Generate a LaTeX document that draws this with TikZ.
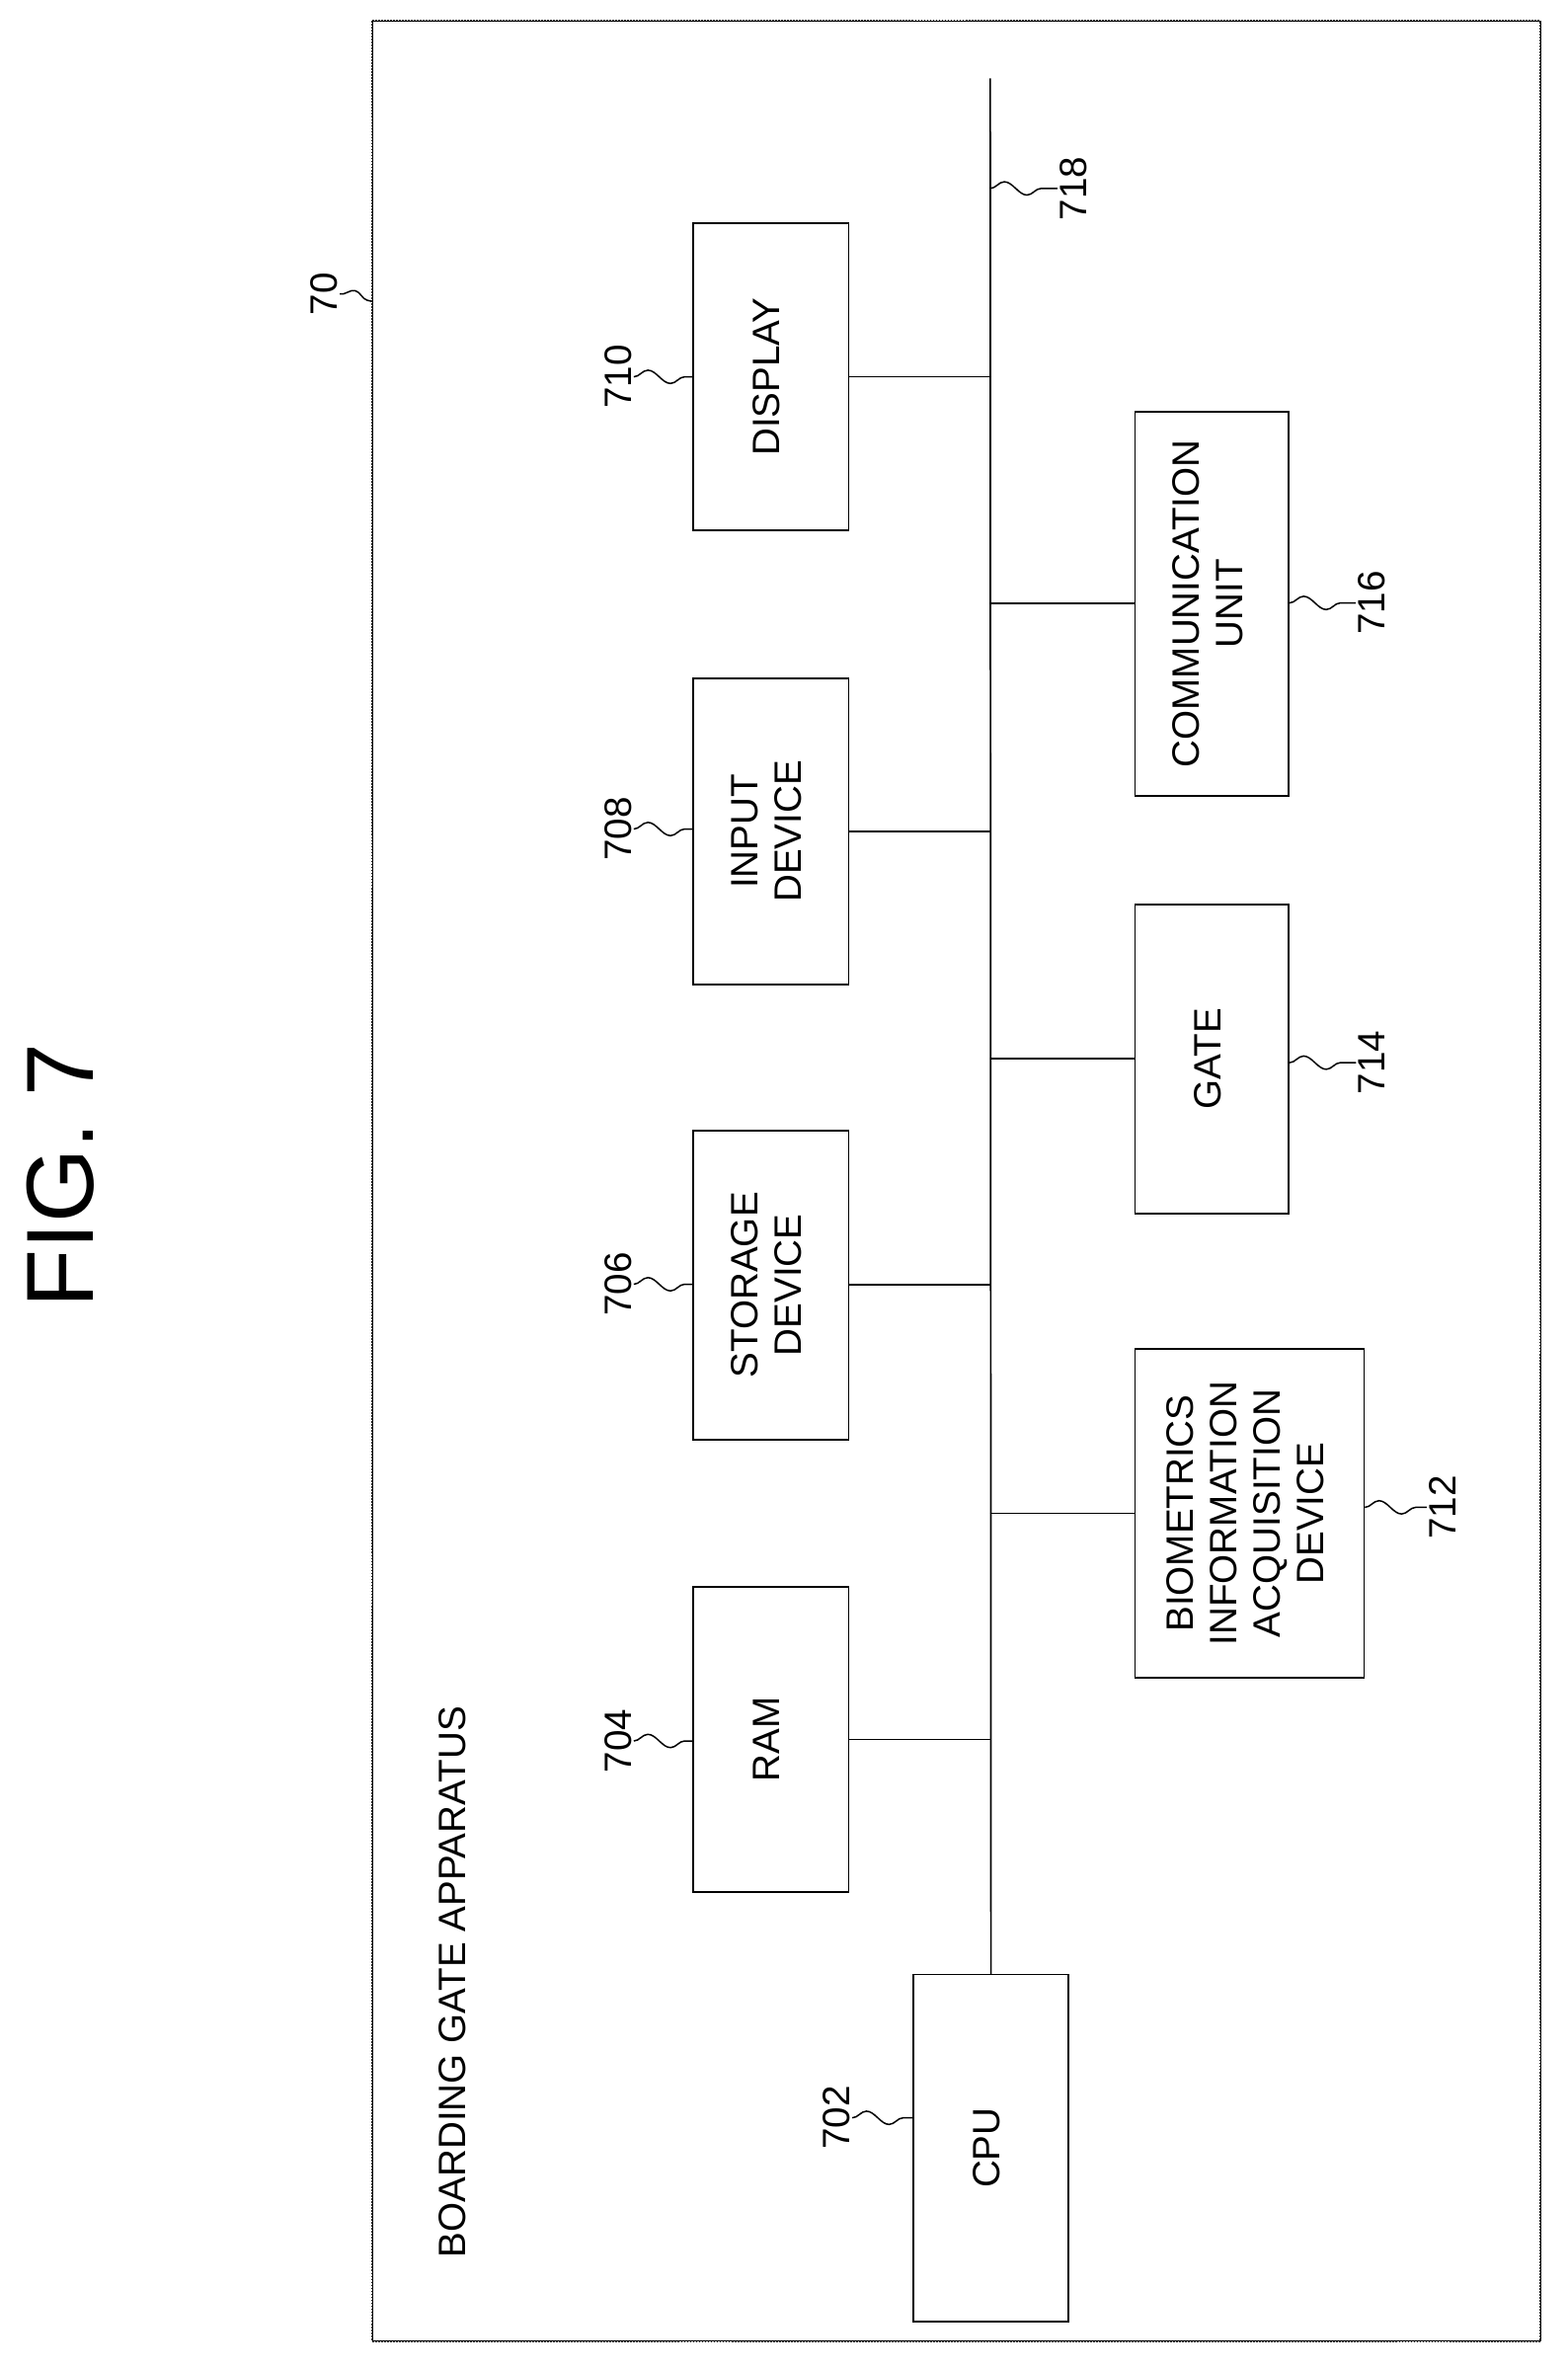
\documentclass[tikz,border=0pt]{standalone}
\usepackage{fontspec}
\setmainfont{Liberation Sans}
\usetikzlibrary{decorations.pathmorphing,positioning}
\tikzset{
  blk/.style={draw,line width=1.6pt,minimum width=5.15cm,align=center,inner sep=0pt},
  lbl/.style={rotate=90,font=\fontsize{36}{41}\selectfont,inner sep=2pt},
  lead/.style={line width=1.4pt,decorate,decoration={snake,amplitude=0.22cm,segment length=1.5cm}},
  wire/.style={line width=1.6pt}
}
\newcommand{\vtxt}[1]{\rotatebox{90}{\fontsize{36}{41}\selectfont\begin{tabular}{@{}c@{}}#1\end{tabular}}}
\begin{document}
\begin{tikzpicture}[x=0.05cm,y=-0.05cm]
    \useasboundingbox (0,0) rectangle (1040,1571);
    % frame and title
    \draw[line width=1.8pt,densely dotted] (247,14) rectangle (1022,1553);
    \draw[line width=0.8pt] (247,14) rectangle (1022,1553);
    \node[rotate=90,font=\fontsize{90}{90}\selectfont] (fig) at (40,780) {FIG. 7};
    \node[lbl] (title) at (300,1315) {BOARDING GATE APPARATUS};

    % blocks
    \node[blk,minimum height=11.5cm]  (cpu)     at (657.5,1425) {\vtxt{CPU}};
    \node[blk,minimum height=10.1cm]  (ram)     at (511.5,1154) {\vtxt{RAM}};
    \node[blk,minimum height=10.25cm] (storage) at (511.5,852.5) {\vtxt{STORAGE\\DEVICE}};
    \node[blk,minimum height=10.15cm] (input)   at (511.5,551.5) {\vtxt{INPUT\\DEVICE}};
    \node[blk,minimum height=10.2cm]  (display) at (511.5,250) {\vtxt{DISPLAY}};
    \node[blk,minimum width=7.6cm,minimum height=10.9cm] (bio) at (829,1004)
        {\vtxt{BIOMETRICS\\INFORMATION\\ACQUISITION\\DEVICE}};
    \node[blk,minimum width=5.1cm,minimum height=10.25cm] (gate) at (804,702.5) {\vtxt{GATE}};
    \node[blk,minimum width=5.1cm,minimum height=12.75cm] (comm) at (804,400.5)
        {\vtxt{COMMUNICATION\\UNIT}};

    % bus
    \coordinate (bustop) at (657,52);
    \draw[wire] (bustop) -- (cpu.north);
    \foreach \b in {ram,storage,input,display}
        \draw[wire] (\b.east) -- (\b.east -| bustop);
    \foreach \b in {bio,gate,comm}
        \draw[wire] (\b.west) -- (\b.west -| bustop);

    % reference numerals
    \node[lbl] (l70)  at (215,195)  {70};
    \node[lbl] (l702) at (555,1405) {702};
    \node[lbl] (l704) at (410,1155) {704};
    \node[lbl] (l706) at (410,852)  {706};
    \node[lbl] (l708) at (410,550)  {708};
    \node[lbl] (l710) at (410,250)  {710};
    \node[lbl] (l712) at (957,1000) {712};
    \node[lbl] (l714) at (910,705)  {714};
    \node[lbl] (l716) at (910,400)  {716};
    \node[lbl] (l718) at (712,125)  {718};
    \coordinate (f70)  at (247,200);
    \coordinate (b718) at (657,125);
    \draw[lead] (l70.south) -- (f70);
    \draw[lead] (l702.south) -- (cpu.west |- l702.south);
    \foreach \l/\b in {704/ram,706/storage,708/input,710/display}
        \draw[lead] (l\l.south) -- (\b.west |- l\l.south);
    \foreach \l/\b in {712/bio,714/gate,716/comm}
        \draw[lead] (\b.east |- l\l.north) -- (l\l.north);
    \draw[lead] (b718) -- (l718.north);
\end{tikzpicture}
\end{document}
